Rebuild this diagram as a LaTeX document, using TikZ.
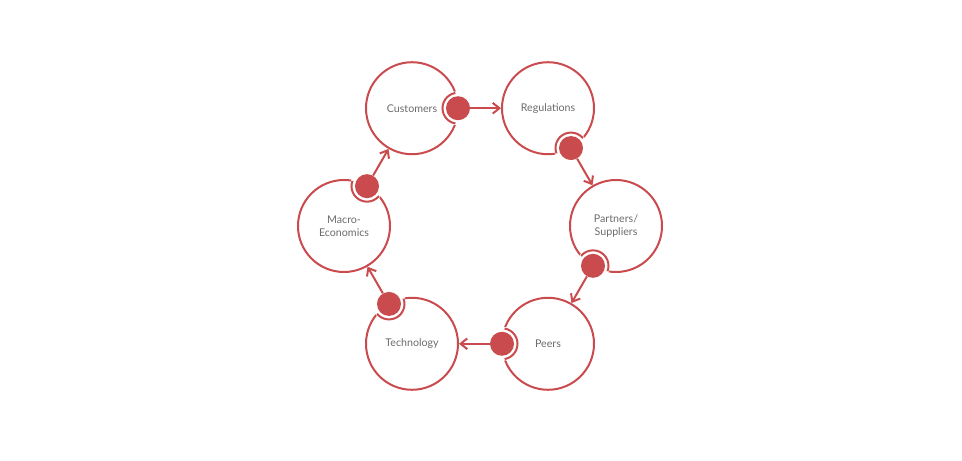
\documentclass[tikz,border=0pt]{standalone}
\usepackage{fontspec}
\setsansfont{Lato}
\usetikzlibrary{calc,arrows.meta}
\definecolor{tred}{HTML}{C94B4E}
\definecolor{tgray}{HTML}{6B6B6B}
\begin{document}
\begin{tikzpicture}[x=0.75pt,y=0.75pt,
    hub/.style={circle,draw=tred,line width=1.5pt,minimum size=69pt,inner sep=0pt,
      font=\sffamily\fontsize{8}{10}\selectfont,text=tgray,align=center},
    knob/.style={circle,fill=tred,minimum size=18pt,inner sep=0pt},
    link/.style={draw=tred,line width=1.5pt,-{Straight Barb[length=5pt,width=8pt]}}]
  \useasboundingbox (-480,-234) rectangle (482,226);
  \node[hub] (cust)  at (120:136)  {Customers};
  \node[hub] (regu)  at (60:136)   {Regulations};
  \node[hub] (part)  at (0:136)    {Partners/\\Suppliers};
  \node[hub] (peer)  at (-60:136)  {Peers};
  \node[hub] (tech)  at (-120:136) {Technology};
  \node[hub] (macro) at (180:136)  {Macro-\\Economics};
  % knobs sitting on each ring, with an arrow to the next one
  \foreach \n/\a/\m in {cust/0/regu,regu/-60/part,part/-120/peer,
                        peer/180/tech,tech/120/macro,macro/60/cust}{
    \path[fill=white] ($(\n)+(\a:46)$) circle (17);
    \begin{scope}
      \clip (\n) circle (46);
      \draw[tred,line width=1.5pt] ($(\n)+(\a:46)$) circle (15.5);
    \end{scope}
    \node[knob] (\n-k) at ($(\n)+(\a:46)$) {};
    \path[link] (\n-k) -- (\m);
  }
\end{tikzpicture}
\end{document}
